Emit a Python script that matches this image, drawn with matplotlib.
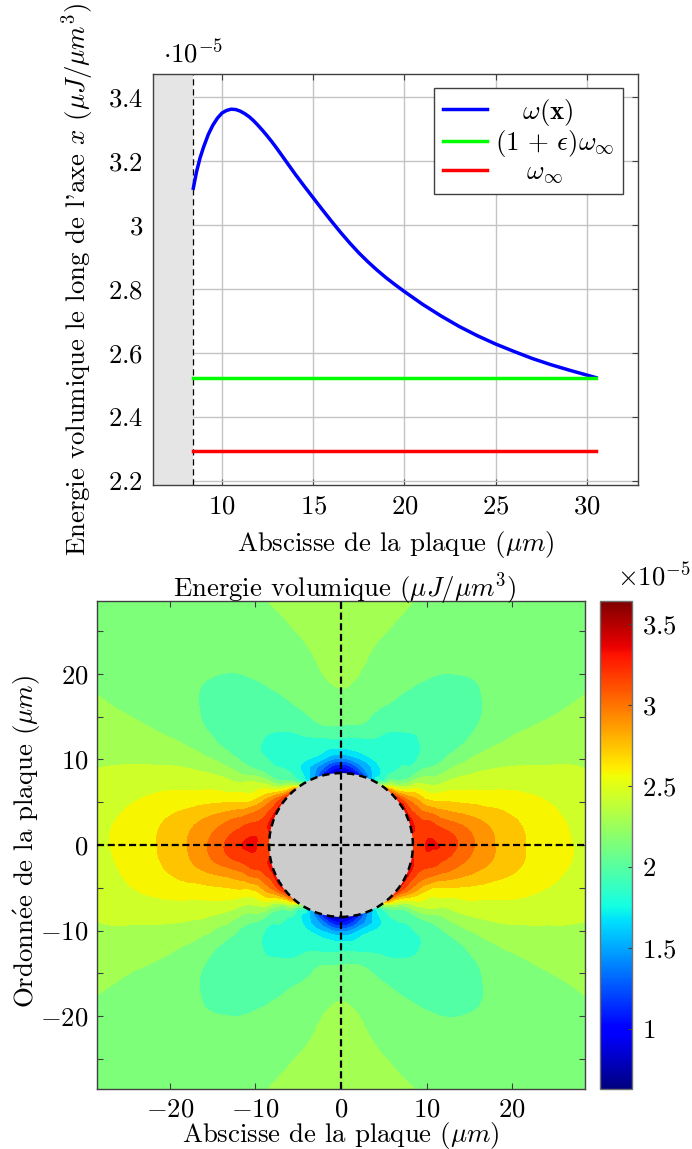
import numpy as np
import matplotlib
matplotlib.use("Agg")
import matplotlib.pyplot as plt
import matplotlib.tri as mtri
from matplotlib.cm import ScalarMappable
from matplotlib.colors import Normalize
from matplotlib.patches import Circle

# ---- line chart data (values x 1e-5)
abscissa = [8.43, 8.6, 8.8, 9.0, 9.25, 9.5, 9.75, 10.0, 10.25, 10.5, 10.75, 11.0, 11.25, 11.5, 11.75, 12.0, 12.25,
            12.5, 12.75, 13.0, 13.5, 14.0, 14.5, 15.0, 15.5, 16.0, 16.5, 17.0, 17.5, 18.0, 18.5, 19.0, 19.5, 20.0,
            20.5, 21.0, 22.0, 23.0, 24.0, 25.0, 26.0, 27.0, 28.0, 29.0, 30.0, 30.5]
energy = [3.115, 3.165, 3.21, 3.245, 3.283, 3.312, 3.334, 3.35, 3.358, 3.362, 3.361, 3.356, 3.348, 3.338, 3.325,
          3.31, 3.294, 3.277, 3.259, 3.24, 3.2, 3.16, 3.122, 3.085, 3.048, 3.012, 2.977, 2.944, 2.913, 2.885,
          2.859, 2.835, 2.813, 2.792, 2.772, 2.752, 2.716, 2.683, 2.654, 2.628, 2.605, 2.583, 2.564, 2.547,
          2.531, 2.523]
omega_eps = [2.523, 2.523]
omega_inf = [2.295, 2.295]
line_span = [8.43, 30.5]
top_xticks = [10, 15, 20, 25, 30]
top_yticks = [2.2, 2.4, 2.6, 2.8, 3.0, 3.2, 3.4]
top_yticklabels = ["$2.2$", "$2.4$", "$2.6$", "$2.8$", "$3$", "$3.2$", "$3.4$"]

# ---- contour field: first quadrant
radii = [8.4, 9, 10, 11, 12, 14, 16, 18, 20, 23, 26, 30, 35, 41]
angles = [0, 10, 20, 30, 40, 45, 50, 55, 60, 70, 80, 90]
field = [
    [3.12, 3.25, 3.35, 3.355, 3.31, 3.16, 3.01, 2.885, 2.792, 2.683, 2.605, 2.53, 2.46, 2.42],
    [3.36, 3.31, 3.29, 3.25, 3.17, 3.04, 2.92, 2.82, 2.74, 2.65, 2.57, 2.49, 2.44, 2.40],
    [3.40, 3.28, 3.13, 3.03, 2.90, 2.76, 2.67, 2.60, 2.56, 2.50, 2.45, 2.41, 2.37, 2.34],
    [3.38, 3.20, 2.98, 2.75, 2.59, 2.48, 2.43, 2.39, 2.36, 2.33, 2.31, 2.30, 2.30, 2.29],
    [3.30, 3.00, 2.60, 2.42, 2.31, 2.15, 2.13, 2.125, 2.14, 2.165, 2.19, 2.21, 2.23, 2.24],
    [3.20, 2.75, 2.30, 2.12, 2.08, 2.05, 2.05, 2.07, 2.09, 2.13, 2.16, 2.19, 2.22, 2.235],
    [3.00, 2.50, 2.10, 2.02, 1.985, 1.975, 2.02, 2.05, 2.08, 2.115, 2.15, 2.19, 2.21, 2.23],
    [2.50, 2.10, 2.00, 1.96, 1.95, 1.945, 2.00, 2.055, 2.085, 2.12, 2.155, 2.195, 2.215, 2.235],
    [1.95, 1.88, 1.88, 1.90, 1.91, 1.94, 2.01, 2.06, 2.10, 2.135, 2.17, 2.20, 2.22, 2.24],
    [1.50, 1.55, 1.70, 1.87, 1.92, 2.00, 2.08, 2.135, 2.165, 2.20, 2.23, 2.26, 2.28, 2.29],
    [1.00, 1.23, 1.58, 1.82, 1.92, 2.11, 2.18, 2.22, 2.25, 2.275, 2.31, 2.34, 2.35, 2.35],
    [0.85, 1.05, 1.47, 1.78, 1.94, 2.135, 2.22, 2.28, 2.31, 2.34, 2.37, 2.39, 2.40, 2.40],
]
vmin, vmax = 0.63, 3.64
n_bands = 20
hole_radius = 8.4
map_ticks = [-20, -10, 0, 10, 20]
map_labels = ["$-20$", "$-10$", "$0$", "$10$", "$20$"]
cbar_ticks = [1, 1.5, 2, 2.5, 3, 3.5]
cbar_labels = ["$1$", "$1.5$", "$2$", "$2.5$", "$3$", "$3.5$"]

plt.rcParams["font.family"] = ["cmr10", "DejaVu Serif"]
plt.rcParams["mathtext.fontset"] = "cm"
plt.rcParams["axes.unicode_minus"] = False
plt.rcParams["axes.formatter.use_mathtext"] = True
FS = 19.3
SP = "#404040"

W, H = 692, 1149
fig = plt.figure(figsize=(W / 100, H / 100), dpi=100)


def box(l, t, r, b):
    return [l / W, 1 - b / H, (r - l) / W, (b - t) / H]


def frame(ax, length=4.5):
    for s in ax.spines.values():
        s.set_color(SP)
        s.set_linewidth(1.0)
    ax.tick_params(direction="in", top=True, right=True, length=length, width=0.8,
                   color=SP, labelsize=FS)


# ---- top panel
ax = fig.add_axes(box(153, 74, 638, 485))
ax.set_xlim(6.22, 32.8)
ax.set_ylim(2.1875, 3.472)
ax.grid(True, color="#c4c4c4", lw=1.0)
ax.set_axisbelow(True)
ax.axvspan(6.22, 8.43, color="#e5e5e5", lw=0, zorder=1.5)
ax.axvline(8.43, color="black", lw=0.9, dashes=(5, 3), zorder=2)
ax.plot(abscissa, energy, color="#0000ff", lw=2.5, label=r"$\quad\,\omega(\mathbf{x})$", zorder=3)
ax.plot(line_span, omega_eps, color="#00ff00", lw=2.5, label=r"$(1\,+\,\epsilon)\omega_\infty$", zorder=3)
ax.plot(line_span, omega_inf, color="#ff0000", lw=2.5, label=r"$\quad\ \omega_\infty$", zorder=3)
ax.set_xticks(top_xticks)
ax.set_xticklabels([f"${v}$" for v in top_xticks])
ax.set_yticks(top_yticks)
ax.set_yticklabels(top_yticklabels)
frame(ax)
ax.tick_params(pad=7)
ax.set_xlabel(r"Abscisse de la plaque ($\mu m$)", fontsize=FS)
ax.set_ylabel(r"Energie volumique le long de l'axe $x$ ($\mu J/\mu m^3$)", fontsize=FS)
ax.yaxis.set_label_coords(-0.118, 0.5)
ax.xaxis.set_label_coords(0.5, -0.106)
leg = ax.legend(loc="upper right", bbox_to_anchor=(0.969, 0.966), fontsize=FS, fancybox=False,
                framealpha=1, edgecolor=SP, borderaxespad=0, handlelength=1.65,
                labelspacing=0.03, borderpad=0.32, handletextpad=0.3)
leg.get_frame().set_linewidth(1.0)
leg.set_zorder(5)
fig.text(163 / W, 1 - 62 / H, r"$\cdot 10^{-5}$", fontsize=FS, ha="left", va="baseline")

# ---- contour panel
ax2 = fig.add_axes(box(97, 601, 585, 1089))
Q = np.array(field)
# mirror the first quadrant onto the whole plate
row_angles = np.array(angles, float)
full_angles = np.concatenate([row_angles, 180 - row_angles[-2::-1], 180 + row_angles[1:], 360 - row_angles[-2::-1]])
full_field = np.vstack([Q, Q[-2::-1], Q[1:], Q[-2::-1]])
# the table is a regular (angle, radius) mesh; matplotlib's own refiner smooths its facets
na, nr = full_field.shape
ia, ir = np.meshgrid(np.arange(na), np.arange(nr), indexing="ij")
node = ia * nr + ir
lower = np.column_stack([node[:-1, :-1].ravel(), node[1:, :-1].ravel(), node[1:, 1:].ravel()])
upper = np.column_stack([node[:-1, :-1].ravel(), node[1:, 1:].ravel(), node[:-1, 1:].ravel()])
tri = mtri.Triangulation((full_angles[ia] / 10).ravel(), ir.ravel().astype(float),
                         triangles=np.vstack([lower, upper]))
fine, fine_z = mtri.UniformTriRefiner(tri).refine_field(full_field.ravel(), subdiv=3)
fine_t = np.radians(fine.x * 10)
fine_r = np.interp(fine.y, np.arange(nr), radii)
smooth = mtri.Triangulation(fine_r * np.cos(fine_t), fine_r * np.sin(fine_t), triangles=fine.triangles)
cmap = plt.get_cmap("jet")
levels = np.linspace(vmin, vmax, n_bands + 1)
ax2.tricontourf(smooth, fine_z, levels=levels, colors=[cmap(k / n_bands) for k in range(n_bands)])
ax2.add_patch(Circle((0, 0), hole_radius, facecolor="#cccccc", edgecolor="none", zorder=3))
ax2.add_patch(Circle((0, 0), hole_radius, facecolor="none", edgecolor="black", lw=1.8, ls=(0, (3, 2)), zorder=4))
ax2.plot([-28.5, 28.5], [0, 0], color="black", lw=1.6, ls=(0, (3.2, 1.6)), zorder=4)
ax2.plot([0, 0], [-28.5, 28.5], color="black", lw=1.6, ls=(0, (3.2, 1.6)), zorder=4)
ax2.set_xlim(-28.5, 28.5)
ax2.set_ylim(-28.5, 28.5)
ax2.set_xticks(map_ticks)
ax2.set_xticklabels(map_labels)
ax2.set_yticks(np.arange(-25, 26, 5))
ax2.set_yticklabels([f"${v}$" if v % 10 == 0 else "" for v in range(-25, 26, 5)])
frame(ax2)
ax2.tick_params(pad=6)
ax2.set_title(r"Energie volumique ($\mu J/\mu m^3$)", fontsize=FS, pad=3, x=0.508)
ax2.set_xlabel(r"Abscisse de la plaque ($\mu m$)", fontsize=FS)
ax2.xaxis.set_label_coords(0.5, -0.064)
ax2.set_ylabel(r"$\mathrm{Ordonn\acute{e}e}$ de la plaque ($\mu m$)", fontsize=FS)
ax2.yaxis.set_label_coords(-0.111, 0.508)

# ---- colour bar
cax = fig.add_axes(box(600, 601, 632, 1089))
sm = ScalarMappable(norm=Normalize(vmin, vmax), cmap=cmap)
cb = fig.colorbar(sm, cax=cax)
cb.set_ticks(cbar_ticks)
cb.set_ticklabels(cbar_labels)
cb.ax.tick_params(direction="in", length=3, width=0.8, color=SP, labelsize=FS, pad=7)
cb.outline.set_edgecolor("#707070")
cb.outline.set_linewidth(1.0)
fig.text(617 / W, 1 - 585 / H, r"$\times 10^{-5}$", fontsize=FS, ha="left", va="baseline")

fig.savefig("out.png", dpi=100)
